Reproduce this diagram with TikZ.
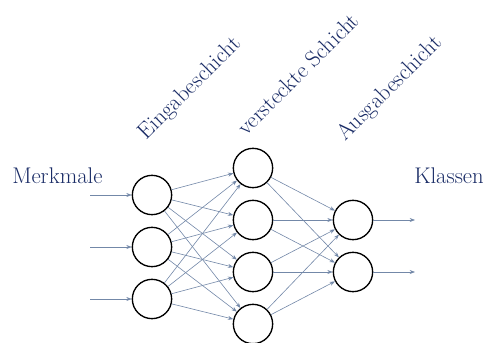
\documentclass[tikz,border=0pt]{standalone}
\usepackage{tikz}
\usepackage{xcolor}
\usetikzlibrary{arrows.meta}
\definecolor{navy}{HTML}{1A2C66}
\definecolor{steel}{HTML}{7388A8}

\begin{document}
\begin{tikzpicture}[
  x=0.75pt, y=-0.75pt,
  neuron/.style={circle, draw=black, line width=1pt, minimum size=29.5pt, inner sep=0pt},
  edge/.style={-{Stealth[length=4pt, width=3pt]}, draw=steel, line width=0.45pt},
  lbl/.style={text=navy, font=\fontsize{17}{20}\selectfont, anchor=base west, inner sep=0pt},
  layerlbl/.style={text=navy, font=\fontsize{17}{20}\selectfont, anchor=base west, inner sep=0pt, rotate=45}
]
\useasboundingbox (0,0) rectangle (483,343);

%% ─── INPUT LAYER (x = 152) ──────────────────────────────────────────
\node[neuron] (in1) at (152, 195) {};
\node[neuron] (in2) at (152, 247) {};
\node[neuron] (in3) at (152, 299) {};

%% ─── HIDDEN LAYER (x = 253) ─────────────────────────────────────────
\node[neuron] (hid1) at (253, 168) {};
\node[neuron] (hid2) at (253, 220) {};
\node[neuron] (hid3) at (253, 272) {};
\node[neuron] (hid4) at (253, 324) {};

%% ─── OUTPUT LAYER (x = 353) ─────────────────────────────────────────
\node[neuron] (out1) at (353, 220) {};
\node[neuron] (out2) at (353, 272) {};

%% free ends of the feature / class arrows
\coordinate (src1) at (90, 195);
\coordinate (src2) at (90, 247);
\coordinate (src3) at (90, 299);
\coordinate (dst1) at (415, 220);
\coordinate (dst2) at (415, 272);

%% ─── LABELS ─────────────────────────────────────────────────────────
\node[lbl] (feat) at (12, 183) {Merkmale};
\node[lbl] (cls) at (414, 183) {Klassen};
\node[layerlbl] (inlbl) at (146, 141) {Eingabeschicht};
\node[layerlbl] (hidlbl) at (246, 137) {versteckte Schicht};
\node[layerlbl] (outlbl) at (345, 142) {Ausgabeschicht};

%% ─── CONNECTIONS ────────────────────────────────────────────────────
\draw[edge] (src1) -- (in1);
\draw[edge] (src2) -- (in2);
\draw[edge] (src3) -- (in3);

\draw[edge] (in1) -- (hid1); \draw[edge] (in1) -- (hid2);
\draw[edge] (in1) -- (hid3); \draw[edge] (in1) -- (hid4);
\draw[edge] (in2) -- (hid1); \draw[edge] (in2) -- (hid2);
\draw[edge] (in2) -- (hid3); \draw[edge] (in2) -- (hid4);
\draw[edge] (in3) -- (hid1); \draw[edge] (in3) -- (hid2);
\draw[edge] (in3) -- (hid3); \draw[edge] (in3) -- (hid4);

\draw[edge] (hid1) -- (out1); \draw[edge] (hid1) -- (out2);
\draw[edge] (hid2) -- (out1); \draw[edge] (hid2) -- (out2);
\draw[edge] (hid3) -- (out1); \draw[edge] (hid3) -- (out2);
\draw[edge] (hid4) -- (out1); \draw[edge] (hid4) -- (out2);

\draw[edge] (out1) -- (dst1);
\draw[edge] (out2) -- (dst2);

\end{tikzpicture}
\end{document}
